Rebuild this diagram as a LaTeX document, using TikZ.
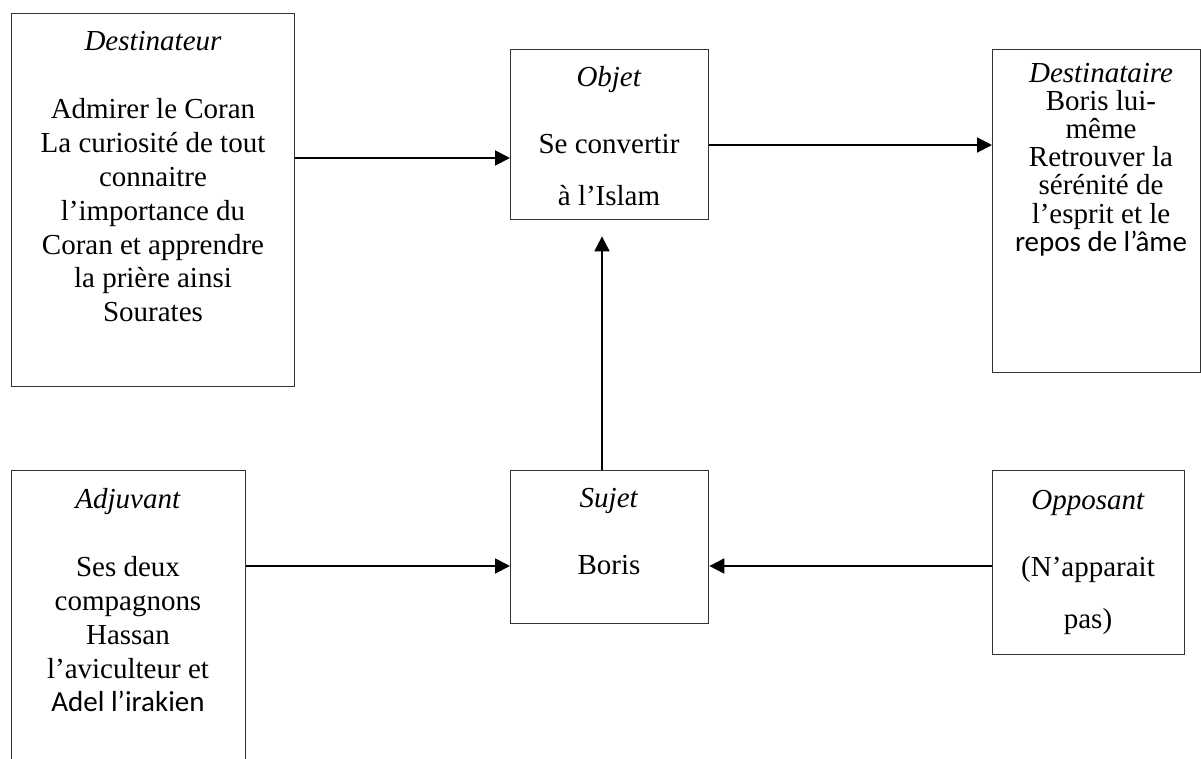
\documentclass[tikz,border=0pt]{standalone}
\usepackage{fontspec}
\setmainfont{Liberation Serif}
\newfontfamily\carlito{Carlito}
\usetikzlibrary{arrows.meta}

\tikzset{
  boite/.style={draw=black!80, line width=0.8pt, inner sep=0pt, anchor=north west},
  texte/.style={anchor=north, align=center, inner sep=0pt, font=\fontsize{16.5}{19.3}\selectfont},
  fleche/.style={line width=1.1pt, -{Triangle[length=8.5pt,width=8.5pt]}}
}

\begin{document}
\begin{tikzpicture}[x=0.02cm,y=-0.02cm]
  \useasboundingbox (0,0) rectangle (1201,758);

  % cases du haut
  \node[boite, minimum width=5.66cm, minimum height=7.46cm] (desr) at (11,13) {};
  \node[boite, minimum width=3.96cm, minimum height=3.4cm] (obj) at (510,49) {};
  \node[boite, minimum width=4.16cm, minimum height=6.46cm] (dest) at (992,49) {};
  % cases du bas
  \node[boite, minimum width=4.68cm, minimum height=6.4cm] (adj) at (11,470) {};
  \node[boite, minimum width=3.96cm, minimum height=3.06cm] (suj) at (510,470) {};
  \node[boite, minimum width=3.84cm, minimum height=3.68cm] (opp) at (992,470) {};

  % textes
  \node[texte] (t-desr) at (153,31) {\textit{Destinateur}\\[19.3pt]
    Admirer le Coran\\ La curiosité de tout\\ connaitre\\ l’importance du\\
    Coran et apprendre\\ la prière ainsi\\ Sourates};
  \node[texte] (t-obj) at (609,66) {\textit{Objet}\\[18.7pt] Se convertir\\[10.2pt] à l’Islam};
  \node[texte, font=\fontsize{16.5}{16}\selectfont] (t-dest) at (1101,63) {\textit{Destinataire}\\ Boris lui-\\ même\\
    Retrouver la\\ sérénité de\\ l’esprit et le\\ {\carlito repos de l’âme}};
  \node[texte] (t-adj) at (128,488) {\textit{Adjuvant}\\[19.3pt] Ses deux\\ compagnons\\
    Hassan\\ l’aviculteur et\\ {\carlito Adel l’irakien}};
  \node[texte] (t-suj) at (609,488) {\textit{Sujet}\\[18.7pt] Boris};
  \node[texte] (t-opp) at (1088,490) {\textit{Opposant}\\[18.7pt] (N’apparait\\[10.2pt] pas)};

  % fleches
  \coordinate (h1) at (0,158);
  \coordinate (h2) at (0,145);
  \coordinate (h3) at (0,566);
  \coordinate (v1) at (602,0);
  \draw[fleche] (desr.east |- h1) -- (obj.west |- h1);
  \draw[fleche] (obj.east |- h2) -- (dest.west |- h2);
  \draw[fleche, shorten >=0.32cm] (suj.north -| v1) -- (obj.south -| v1);
  \draw[fleche] (adj.east |- h3) -- (suj.west |- h3);
  \draw[fleche] (opp.west |- h3) -- (suj.east |- h3);
\end{tikzpicture}
\end{document}
